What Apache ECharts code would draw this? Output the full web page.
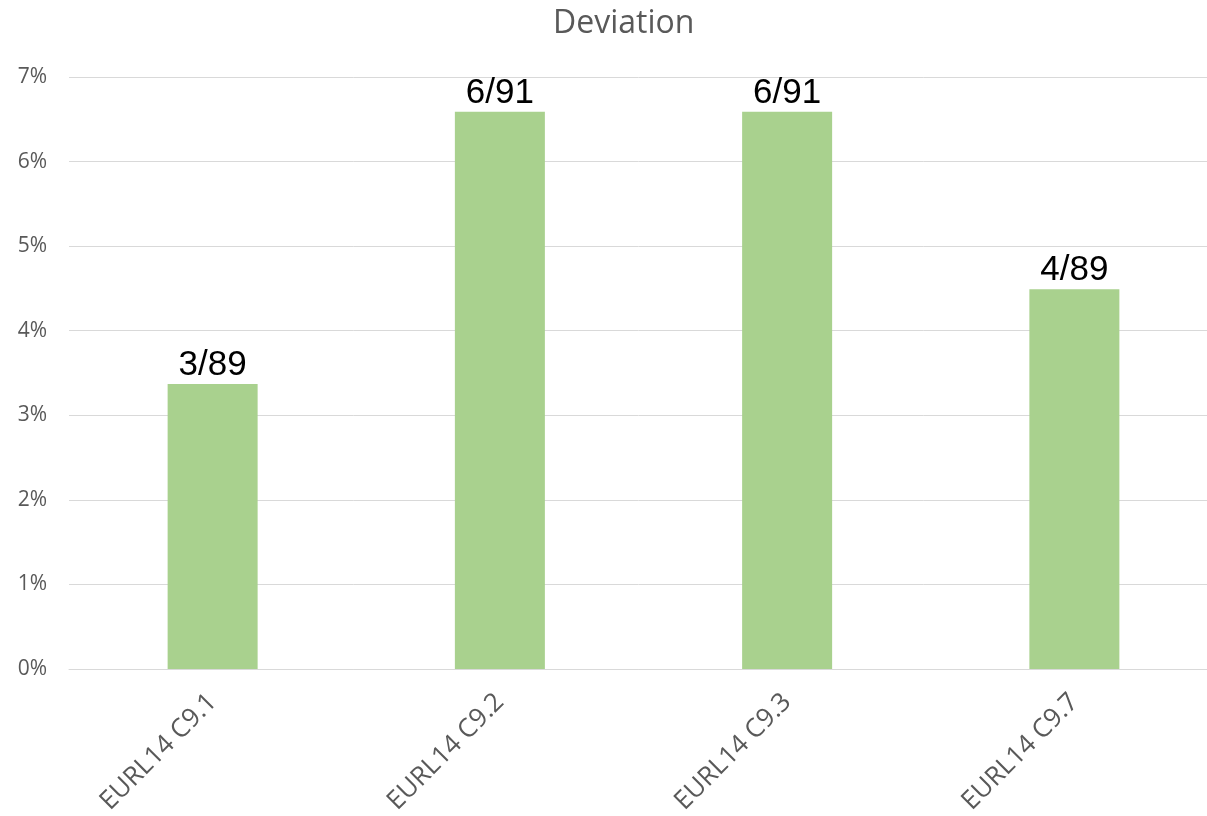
<!DOCTYPE html>
<html>
<head>
<meta charset="utf-8">
<script src="https://cdn.jsdelivr.net/npm/echarts@6/dist/echarts.min.js"></script>
<style>html,body{margin:0;padding:0;background:#fff;}#main{width:1207px;height:816px;}</style>
</head>
<body>
<div id="main"></div>
<script>
const categories = ["EURL14 C9.1", "EURL14 C9.2", "EURL14 C9.3", "EURL14 C9.7"];
const values = [3.37, 6.59, 6.59, 4.49];
const barLabels = ["3/89", "6/91", "6/91", "4/89"];
const yTicks = [0, 1, 2, 3, 4, 5, 6, 7];

const chart = echarts.init(document.getElementById('main'));
chart.setOption({
  backgroundColor: '#ffffff',
  animation: false,
  title: {
    text: 'Deviation',
    left: 553, top: 8, padding: 0,
    textStyle: { fontFamily: 'Open Sans', fontSize: 32, fontWeight: 'normal', color: '#595959' }
  },
  grid: { left: 69, width: 1149, top: 77, bottom: 147, outerBoundsMode: 'none', containLabel: false },
  xAxis: {
    type: 'category',
    data: categories,
    axisLine: { show: true, lineStyle: { color: '#d9d9d9', width: 1 } },
    axisTick: { show: false },
    axisLabel: { rotate: 45, margin: 29, fontFamily: 'Open Sans', fontSize: 26, color: '#595959' }
  },
  yAxis: {
    type: 'value',
    min: yTicks[0], max: yTicks[yTicks.length - 1], interval: 1,
    axisLine: { show: false },
    axisTick: { show: false },
    splitLine: { lineStyle: { color: '#d9d9d9', width: 1 } },
    axisLabel: { margin: 22, fontFamily: 'Open Sans', fontSize: 21, color: '#595959', formatter: '{value}%' }
  },
  series: [{
    type: 'bar',
    data: values,
    barWidth: 90,
    itemStyle: { color: '#a9d18e' },
    label: {
      show: true, position: 'top', distance: 1,
      fontFamily: 'Liberation Sans', fontSize: 35, color: '#000000',
      formatter: p => barLabels[p.dataIndex]
    }
  }]
});
</script>
</body>
</html>
